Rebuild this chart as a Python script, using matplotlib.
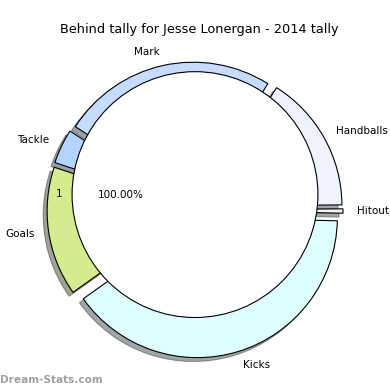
import matplotlib
matplotlib.use('Agg')
import matplotlib.pyplot as plt
from matplotlib.patches import Circle

# Behind tally - donut style pie
categories = ['Handballs', 'Mark', 'Tackle', 'Goals', 'Kicks', 'Hitout']
values = [16, 25, 4, 15, 40, 0.5]
colours = ['#EEF3FF', '#C6DBFF', '#B3D4FF', '#D4EC8E', '#DDFFFF', '#F4F4F4']
title = 'Behind tally for Jesse Lonergan - 2014 tally'

fig = plt.figure(figsize=(3.9, 3.9), dpi=100)
ax = fig.add_axes([0, 0, 1, 1])

ax.pie(values, labels=categories, colors=colours, startangle=0.5,
       explode=[0.057] * len(values), shadow=True, labeldistance=1.1,
       wedgeprops={'edgecolor': 'black', 'linewidth': 0.8},
       textprops={'fontsize': 7.5})

# white centre
ax.add_patch(Circle((0, 0.11), 0.878, facecolor='white', edgecolor='black',
                    linewidth=0.8, zorder=5))

ax.text(-0.971, 0.114, '1', fontsize=7.5, ha='center', va='center', zorder=6)
ax.text(-0.529, 0.107, '100.00%', fontsize=7.5, ha='center', va='center', zorder=6)

ax.set_aspect('equal')
ax.set_xlim(-195 / 140, 195 / 140)
ax.set_ylim(-180 / 140, 210 / 140)
ax.axis('off')

fig.text(0.51, 1 - 30 / 390, title, fontsize=9.3, ha='center', va='center')
fig.text(0.0, 10 / 390, 'Dream-Stats.com', fontsize=7.6, color='#a0a0a0',
         weight='bold', ha='left', va='center')

fig.savefig('out.png', dpi=100)
